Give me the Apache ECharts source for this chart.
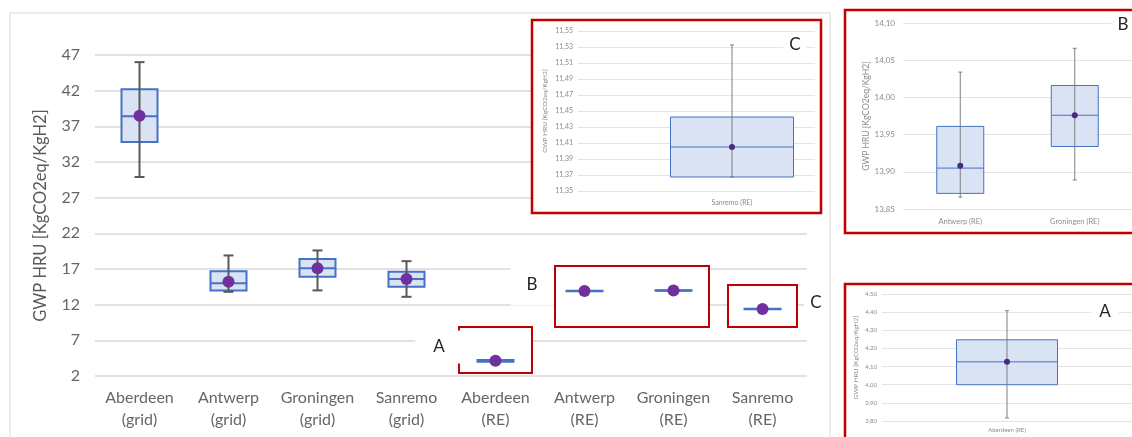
<!DOCTYPE html>
<html><head><meta charset="utf-8">
<script src="https://cdn.jsdelivr.net/npm/echarts@6/dist/echarts.min.js"></script>
<style>html,body{margin:0;padding:0;background:#fff}#c{width:1132px;height:437px}</style>
</head><body><div id="c"></div>
<script>
// ---- data ----
const categories = ['Aberdeen\n(grid)', 'Antwerp\n(grid)', 'Groningen\n(grid)', 'Sanremo\n(grid)',
                    'Aberdeen\n(RE)', 'Antwerp\n(RE)', 'Groningen\n(RE)', 'Sanremo\n(RE)'];
const minVals    = [29.9, 13.8, 14.0, 13.1, 3.817, 13.866, 13.889, 11.3675];
const q1Vals     = [34.8, 14.0, 15.9, 14.5, 4.000, 13.871, 13.934, 11.3675];
const medianVals = [38.4, 15.0, 17.1, 15.6, 4.126, 13.905, 13.976, 11.405];
const q3Vals     = [42.2, 16.7, 18.4, 16.6, 4.2475, 13.961, 14.016, 11.4425];
const maxVals    = [46.0, 18.9, 19.6, 18.1, 4.408, 14.034, 14.066, 11.5325];
const meanVals   = [38.5, 15.2, 17.1, 15.6, 4.126, 13.908, 13.976, 11.405];

const mainYTicks = [2, 47, 5];            // min, max, step
const insetACats = ['Aberdeen (RE)'];   const insetAIdx = [4]; const insetATicks = [3.80, 4.50, 0.10];
const insetBCats = ['Antwerp (RE)', 'Groningen (RE)']; const insetBIdx = [5, 6]; const insetBTicks = [13.85, 14.10, 0.05];
const insetCCats = ['Sanremo (RE)'];    const insetCIdx = [7]; const insetCTicks = [11.35, 11.55, 0.02];
const yName = 'GWP HRU [KgCO2eq/KgH2]';

function rows(idxList) {
  return idxList.map((k, i) => [i, minVals[k], q1Vals[k], medianVals[k], q3Vals[k], maxVals[k], meanVals[k]]);
}

function boxRenderer(cfg) {
  return function (params, api) {
    const c = api.value(0);
    const p = i => api.coord([c, api.value(i)]);
    const pMin = p(1), pQ1 = p(2), pMed = p(3), pQ3 = p(4), pMax = p(5), pMean = p(6);
    const cx = pMed[0], hw = cfg.boxW / 2, cw = cfg.capW / 2;
    const ch = [
      { type: 'rect', shape: { x: cx - hw, y: pQ3[1], width: cfg.boxW, height: Math.max(pQ1[1] - pQ3[1], 0) },
        style: { fill: '#dae3f3', stroke: '#4472c4', lineWidth: cfg.boxLW } },
      { type: 'line', shape: { x1: cx, y1: pMax[1], x2: cx, y2: pMin[1] },
        style: { stroke: cfg.wh, lineWidth: cfg.whLW } }
    ];
    if (cfg.capW > 0) {
      ch.push({ type: 'line', shape: { x1: cx - cw, y1: pMax[1], x2: cx + cw, y2: pMax[1] }, style: { stroke: cfg.wh, lineWidth: cfg.whLW } });
      ch.push({ type: 'line', shape: { x1: cx - cw, y1: pMin[1], x2: cx + cw, y2: pMin[1] }, style: { stroke: cfg.wh, lineWidth: cfg.whLW } });
    }
    ch.push({ type: 'line', shape: { x1: cx - hw, y1: pMed[1], x2: cx + hw, y2: pMed[1] }, style: { stroke: '#4472c4', lineWidth: cfg.boxLW } });
    ch.push({ type: 'circle', shape: { cx: pMean[0], cy: pMean[1], r: cfg.r }, style: { fill: cfg.dot } });
    return { type: 'group', children: ch };
  };
}

const FONT = 'Lato, "Open Sans", sans-serif';
const comma = v => v.toFixed(2).replace('.', ',');

function insetY(ticks, fs, nameFs, gap, margin, show) {
  return {
    type: 'value', min: ticks[0], max: ticks[1], interval: ticks[2], show: show, z: 4,
    name: yName, nameLocation: 'middle', nameGap: gap,
    nameTextStyle: { fontSize: nameFs, color: '#8c8c8c', fontFamily: FONT },
    axisLine: { show: false }, axisTick: { show: false },
    axisLabel: { fontSize: fs, color: '#8c8c8c', fontFamily: FONT, margin: margin, formatter: comma },
    splitLine: { lineStyle: { color: '#e4e4e4', width: 1 } }
  };
}
function insetX(cats, fs, margin, show) {
  return {
    type: 'category', data: cats, show: show, z: 4,
    axisLine: { show: false }, axisTick: { show: false },
    axisLabel: { fontSize: fs, color: '#8c8c8c', fontFamily: FONT, margin: margin },
    splitLine: { show: false }
  };
}
function letter(t, x, y, pad, z) {
  return { type: 'text', z: z, style: { text: t, x: x, y: y, align: 'center', verticalAlign: 'middle',
    fill: '#262626', font: '17px ' + FONT, backgroundColor: '#fff', padding: pad } };
}
function frame(x, y, w, h, z, fill, color, lw) {
  return { type: 'rect', z: z, shape: { x: x, y: y, width: w, height: h },
    style: { fill: fill, stroke: color, lineWidth: lw } };
}

const insetCfg = { boxW: 0, capW: 4, boxLW: 1, wh: '#7f7f7f', whLW: 1, r: 3, dot: '#4b2883' };

const option = {
  backgroundColor: '#fff',
  animation: false,
  grid: [
    { left: 95, top: 55, width: 712, height: 321 },    // main
    { left: 578, top: 31, width: 237, height: 160 },   // C background
    { left: 649, top: 31, width: 166, height: 160 },   // C box
    { left: 903, top: 23, width: 236, height: 186 },   // B
    { left: 882, top: 294, width: 250, height: 127 }   // A
  ],
  xAxis: [
    { type: 'category', data: categories, gridIndex: 0,
      axisLine: { show: false }, axisTick: { show: false },
      axisLabel: { fontSize: 16, color: '#666', fontFamily: FONT, margin: 11, lineHeight: 22, interval: 0 } },
    Object.assign(insetX(['Sanremo (RE)'], 7, 9, false), { gridIndex: 1 }),
    Object.assign(insetX(insetCCats, 7, 8, true), { gridIndex: 2 }),
    Object.assign(insetX(insetBCats, 7.5, 9, true), { gridIndex: 3 }),
    Object.assign(insetX(insetACats, 6, 6, true), { gridIndex: 4 })
  ],
  yAxis: [
    { type: 'value', gridIndex: 0, min: mainYTicks[0], max: mainYTicks[1], interval: mainYTicks[2],
      name: yName, nameLocation: 'middle', nameGap: 46,
      nameTextStyle: { fontSize: 16.5, color: '#595959', fontFamily: FONT },
      axisLine: { show: false }, axisTick: { show: false },
      axisLabel: { fontSize: 16, color: '#666', fontFamily: FONT, margin: 15 },
      splitLine: { lineStyle: { color: '#d9d9d9', width: 1.5 } } },
    Object.assign(insetY(insetCTicks, 7, 6.5, 30, 5, true), { gridIndex: 1 }),
    Object.assign(insetY(insetCTicks, 7, 6.5, 30, 5, false), { gridIndex: 2 }),
    Object.assign(insetY(insetBTicks, 8, 8.5, 31, 8, true), { gridIndex: 3 }),
    Object.assign(insetY(insetATicks, 6, 6.5, 23, 5, true), { gridIndex: 4 })
  ],
  series: [
    { type: 'custom', xAxisIndex: 0, yAxisIndex: 0, z: 2,
      renderItem: boxRenderer({ boxW: 36, capW: 10, boxLW: 2, wh: '#595959', whLW: 2, r: 6, dot: '#7030a0' }),
      encode: { x: 0, y: [1, 2, 3, 4, 5, 6] },
      data: rows([0, 1, 2, 3, 4, 5, 6, 7]) },
    { type: 'custom', xAxisIndex: 2, yAxisIndex: 2, z: 5,
      renderItem: boxRenderer(Object.assign({}, insetCfg, { boxW: 123 })),
      encode: { x: 0, y: [1, 2, 3, 4, 5, 6] }, data: rows(insetCIdx) },
    { type: 'custom', xAxisIndex: 3, yAxisIndex: 3, z: 5,
      renderItem: boxRenderer(Object.assign({}, insetCfg, { boxW: 47 })),
      encode: { x: 0, y: [1, 2, 3, 4, 5, 6] }, data: rows(insetBIdx) },
    { type: 'custom', xAxisIndex: 4, yAxisIndex: 4, z: 5,
      renderItem: boxRenderer(Object.assign({}, insetCfg, { boxW: 101 })),
      encode: { x: 0, y: [1, 2, 3, 4, 5, 6] }, data: rows(insetAIdx) }
  ],
  graphic: { elements: [
    frame(10, 13, 820, 440, 0, 'none', '#d9d9d9', 1),
    // main-chart highlight boxes
    frame(459, 327, 73, 46, 1, '#fff', '#c00000', 2),
    frame(555, 266, 154, 61, 1, '#fff', '#c00000', 2),
    frame(728, 285, 69, 42, 1, '#fff', '#c00000', 2),
    letter('A', 439, 347, [8, 18], 1),
    letter('B', 532, 285, [12, 16], 1),
    letter('C', 816, 303, [4, 6], 1),
    // inset panels
    frame(532, 20, 289, 193, 3, '#fff', '#c00000', 2.5),
    frame(845, 10, 300, 223, 3, '#fff', '#c00000', 2.5),
    frame(845, 284, 300, 170, 3, '#fff', '#c00000', 2.5),
    letter('C', 795, 45, [2, 6], 6),
    letter('B', 1123, 25, [2, 6], 6),
    letter('A', 1105, 312, [2, 8], 6)
  ] }
};

const chart = echarts.init(document.getElementById('c'), null, { renderer: 'canvas' });
chart.setOption(option);
</script>
</body></html>
